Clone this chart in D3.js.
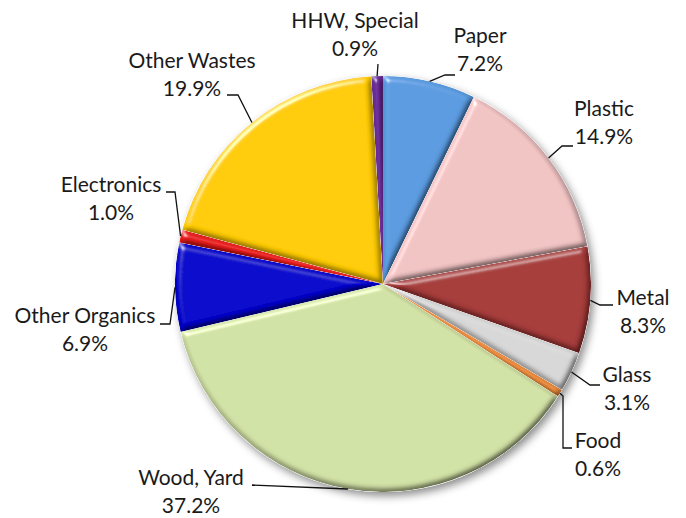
<!DOCTYPE html>
<html><head><meta charset="utf-8">
<script src="https://cdn.jsdelivr.net/npm/d3@7"></script>
<style>html,body{margin:0;padding:0;background:#fff;}</style>
</head><body>
<svg id="chart" width="686" height="518"></svg>
<script>
// ---- data ----
const categories = ["Paper","Plastic","Metal","Glass","Food","Wood, Yard","Other Organics","Electronics","Other Wastes","HHW, Special"];
const values = [7.2, 14.9, 8.3, 3.1, 0.6, 37.2, 6.9, 1.0, 19.9, 0.9];
const colors = ["#5B9BE0","#F2C4C4","#A63C3B","#D8D8D8","#E88A3C","#D2E2A6","#0000CC","#E81C1C","#FFCC00","#6B2C97"];
// label layout: text centre x, first baseline y, leader elbow points (after rim point)
const labelLayout = [
  {x:480, y:43,  pts:[[445,75],[455,75]]},
  {x:604, y:116, pts:[[562,146],[573,146]]},
  {x:643, y:305, pts:[[600,305],[613,305]]},
  {x:627, y:382, pts:[[590,385],[600,385]]},
  {x:598, y:448, pts:[[563,396],[563,448],[572,448]]},
  {x:191, y:485, pts:[[252,485]]},
  {x:85,  y:323, pts:[[170,324],[160,324]]},
  {x:111, y:192, pts:[[175,192],[166,192]]},
  {x:192, y:68,  pts:[[238,95],[227,95]]},
  {x:355, y:28,  pts:[[378,64]]}
];

const svg = d3.select("#chart");
const cx = 383, cy = 284, R = 208;
const defs = svg.append("defs");
const bevel = defs.append("filter").attr("id","bevel").attr("x","-10%").attr("y","-10%").attr("width","120%").attr("height","120%");
bevel.append("feGaussianBlur").attr("in","SourceAlpha").attr("stdDeviation",3).attr("result","blur");
const spec = bevel.append("feSpecularLighting").attr("in","blur").attr("surfaceScale",5).attr("specularConstant",0.9)
  .attr("specularExponent",30).attr("lighting-color","#ffffff").attr("result","spec");
spec.append("feDistantLight").attr("azimuth",235).attr("elevation",25);
bevel.append("feComposite").attr("in","spec").attr("in2","SourceAlpha").attr("operator","in").attr("result","specIn");
const diff = bevel.append("feDiffuseLighting").attr("in","blur").attr("surfaceScale",5).attr("diffuseConstant",1.155)
  .attr("lighting-color","#ffffff").attr("result","diff");
diff.append("feDistantLight").attr("azimuth",235).attr("elevation",60);
bevel.append("feComposite").attr("in","SourceGraphic").attr("in2","diff").attr("operator","arithmetic")
  .attr("k1",1).attr("k2",0).attr("k3",0).attr("k4",0).attr("result","lit");
bevel.append("feComposite").attr("in","lit").attr("in2","specIn").attr("operator","arithmetic")
  .attr("k1",0).attr("k2",1).attr("k3",0.6).attr("k4",0).attr("result","lit2");
bevel.append("feComposite").attr("in","lit2").attr("in2","SourceAlpha").attr("operator","in");

const shadow = defs.append("filter").attr("id","shadow").attr("x","-20%").attr("y","-20%").attr("width","140%").attr("height","140%");
shadow.append("feDropShadow").attr("dx",3).attr("dy",4).attr("stdDeviation",4).attr("flood-color","#000").attr("flood-opacity",0.45);

const pie = d3.pie().sort(null).value(d => d)(values);
const arc = d3.arc().innerRadius(0).outerRadius(R);

const g = svg.append("g").attr("transform",`translate(${cx},${cy})`);
const shadowG = g.append("g").attr("filter","url(#shadow)");
shadowG.append("circle").attr("r",R).attr("fill","#fff");
g.selectAll("path.slice").data(pie).join("path")
  .attr("class","slice")
  .attr("d", arc)
  .attr("fill",(d,i)=>colors[i])
  .attr("filter","url(#bevel)");

// leaders & labels
const lab = svg.append("g");
pie.forEach((d,i)=>{
  const a = (d.startAngle + d.endAngle)/2;
  const p0 = [cx + R*Math.sin(a), cy - R*Math.cos(a)];
  const L = labelLayout[i];
  const pts = [p0].concat(L.pts);
  lab.append("path").attr("d", d3.line()(pts)).attr("fill","none").attr("stroke","#111").attr("stroke-width",1.3);
  const t = lab.append("text").attr("x",L.x).attr("y",L.y).attr("text-anchor","middle")
    .attr("font-family","Lato, 'Open Sans', sans-serif").attr("font-size",21).attr("fill","#1a1a1a");
  t.append("tspan").attr("x",L.x).text(categories[i]);
  t.append("tspan").attr("x",L.x).attr("dy",28).text(values[i].toFixed(1)+"%");
});
</script>
</body></html>
